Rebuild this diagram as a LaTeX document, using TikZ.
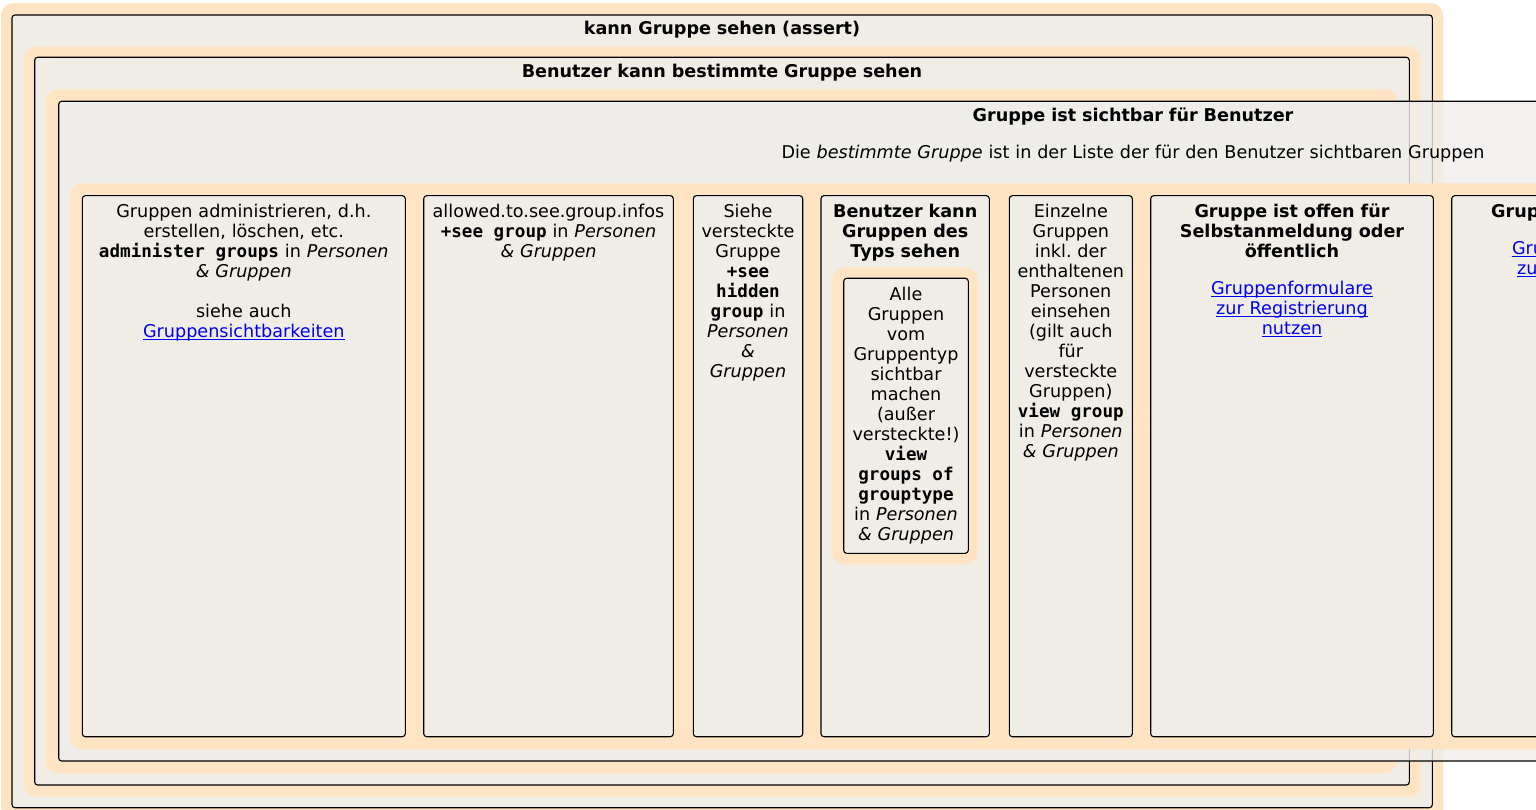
\documentclass[tikz,border=0pt]{standalone}
\usepackage{fontspec}
\setmainfont{DejaVu Sans}
\setmonofont{DejaVu Sans Mono}
\frenchspacing
\definecolor{halo}{RGB}{255,228,196}
\definecolor{boxfill}{RGB}{240,237,230}
\definecolor{boxthreefill}{RGB}{239,238,235}
\definecolor{linkblue}{RGB}{0,0,238}
\newcommand\mono[1]{\texttt{\bfseries #1}}
\newcommand\msp{\hphantom{\texttt{\bfseries x}}}
\newsavebox\lnkbox
\newcommand\lnk[1]{\leavevmode\sbox\lnkbox{\color{linkblue}#1}{\color{linkblue}\rlap{\rule[-2.8pt]{\wd\lnkbox}{1.1pt}}}\usebox\lnkbox}
\tikzset{
  halobox/.style={fill=halo, rounded corners=12pt},
  cbox/.style={draw=black, line width=1.1pt, fill=boxfill, rounded corners=3pt},
  txt/.style={anchor=base, align=center, inner sep=0pt, text width=900pt,
    font=\fontsize{17.6}{20}\selectfont},
}
\begin{document}
\begin{tikzpicture}[x=1pt,y=-1pt]
\useasboundingbox (0,0) rectangle (1536,810);
\clip (0,0) rectangle (1536,810);
\fill[white] (0,0) rectangle (1536,810);
% level 1
\fill[halobox] (1,3.3) rectangle (1443.3,819);
\draw[cbox] (12,15) rectangle (1432.3,807.7);
\node[txt] (t1) at (722,35) {\bfseries kann Gruppe sehen (assert)};
% level 2
\fill[halobox] (24,46.5) rectangle (1420.7,796.7);
\draw[cbox] (34.7,57.3) rectangle (1409.3,785);
\node[txt] (t2) at (722,77.6) {\bfseries Benutzer kann bestimmte Gruppe sehen};
% level 3
\fill[halobox] (46,89.3) rectangle (1397,773.3);
\fill[boxfill] (58.7,101.3) rectangle (1397,761);
\draw[line width=1.1pt, rounded corners=3pt, fill=boxthreefill, fill opacity=0.8] (58.7,101.3) rectangle (2208,761);
\node[txt] (t3) at (1133,121.6) {\bfseries Gruppe ist sichtbar für Benutzer};
\node[txt] (t3b) at (1133,158.3) {Die \textit{bestimmte Gruppe} ist in der Liste der für den Benutzer sichtbaren Gruppen};
% level 4 row
\fill[halobox] (70,183.3) rectangle (2000,749.3);
% columns
\draw[cbox] (82.3,195.7) rectangle (405.3,736.7);
\draw[cbox] (423.7,195.7) rectangle (673.3,736.7);
\draw[cbox] (693.3,195.7) rectangle (802.7,736.7);
\draw[cbox] (821,195.7) rectangle (989.3,736.7);
\draw[cbox] (1009.3,195.7) rectangle (1132.3,736.7);
\draw[cbox] (1150.7,195.7) rectangle (1433.3,736.7);
\draw[cbox] (1451.7,195.7) rectangle (1734.3,736.7);
% inner of column 4
\fill[halobox] (832.3,267.3) rectangle (977.7,564.3);
\draw[cbox] (843.7,278.3) rectangle (968.3,553.3);
% texts
\node[txt] (c1) at (243.8,217.7) {Gruppen administrieren, d.h.\\ erstellen, löschen, etc.\\ \mono{administer}\msp\mono{groups} in \textit{Personen}\\ \textit{\& Gruppen}\\[20pt] siehe auch\\ \lnk{Gruppensichtbarkeiten}};
\node[txt] (c2) at (548.5,217.7) {allowed.to.see.group.infos\\ \mono{+see}\msp\mono{group} in \textit{Personen}\\ \textit{\& Gruppen}};
\node[txt] (c3) at (748,217.7) {Siehe\\ versteckte\\ Gruppe\\ \mono{+see}\\ \mono{hidden}\\ \mono{group} in\\ \textit{Personen}\\ \textit{\&}\\ \textit{Gruppen}};
\node[txt] (c4) at (905.2,217.7) {\bfseries Benutzer kann\\ Gruppen des\\ Typs sehen};
\node[txt] (c4i) at (906,300.7) {Alle\\ Gruppen\\ vom\\ Gruppentyp\\ sichtbar\\ machen\\ (außer\\ versteckte!)\\ \mono{view}\\ \mono{groups}\msp\mono{of}\\ \mono{grouptype}\\ in \textit{Personen}\\ \textit{\& Gruppen}};
\node[txt] (c5) at (1070.8,217.7) {Einzelne\\ Gruppen\\ inkl. der\\ enthaltenen\\ Personen\\ einsehen\\ (gilt auch\\ für\\ versteckte\\ Gruppen)\\ \mono{view}\msp\mono{group}\\ in \textit{Personen}\\ \textit{\& Gruppen}};
\node[txt] (c6) at (1292,217.7) {{\bfseries Gruppe ist offen für\\ Selbstanmeldung oder\\ öffentlich}\\[17pt] \lnk{Gruppenformulare}\\ \lnk{zur Registrierung}\\ \lnk{nutzen}};
\node[txt] (c7) at (1593,217.7) {{\bfseries Gruppe ist öffentlich}\\[17pt] \lnk{Gruppenformulare}\\ \lnk{zur Registrierung}\\ \lnk{nutzen}};
\end{tikzpicture}
\end{document}
